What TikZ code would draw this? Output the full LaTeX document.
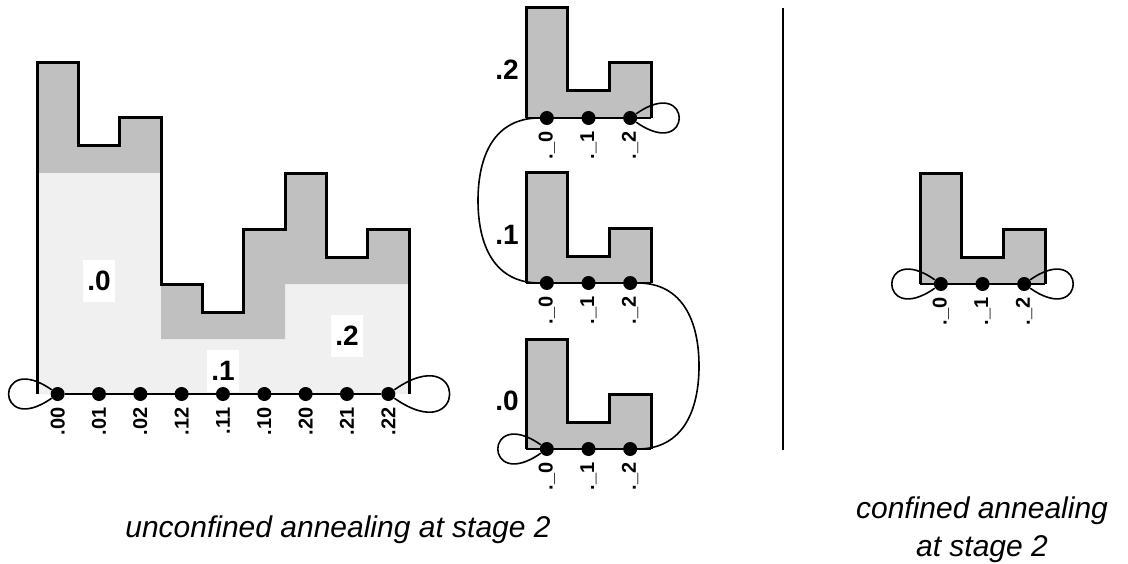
\documentclass[tikz,border=0pt]{standalone}
\usepackage{fontspec}
\setmainfont{Liberation Sans}
\usepackage{xcolor}
\usepackage{tikz}
\usetikzlibrary{positioning,calc}

\definecolor{blockgray}{HTML}{C0C0C0}
\definecolor{palegray}{HTML}{F0F0F0}

% one L-shaped block, left corner at the origin
\newcommand{\lshape}{(0,0) |- (41.67,110) |- (83.33,27) |- (125,55) -- (125,0)}

\begin{document}
\begin{tikzpicture}[
    x=0.5pt, y=0.5pt,
    outline/.style={line width=1.5pt, line join=miter},
    thinline/.style={line width=0.8pt},
    dot/.style={circle, fill=black, inner sep=0pt, minimum size=7pt},
    idx/.style={rotate=90, anchor=east, inner sep=0pt, font=\bfseries\fontsize{10}{12}\selectfont},
    stagelbl/.style={inner sep=0pt, minimum width=16pt, minimum height=21pt, font=\bfseries\fontsize{14}{16}\selectfont},
    region/.style={stagelbl, fill=white},
    caption/.style={font=\itshape\fontsize{15}{19}\selectfont, align=center},
    selfloop/.style={thinline, min distance=35pt}
]
\useasboundingbox (0,0) rectangle (1128,563);

% Unconfined annealing: histogram
\fill[palegray] (37,169) -- (37,390) -- (161,390) -- (161,224) -- (285,224) -- (285,279) -- (409,279) -- (409,169) -- cycle;
\fill[blockgray] (37,390) |- (78.33,500) |- (119.67,417) |- (161,445) -- (161,390) -- cycle;
\fill[blockgray] (161,224) |- (202.33,279) |- (243.67,251) |- (285,334) -- (285,224) -- cycle;
\fill[blockgray] (285,279) |- (326.33,389) |- (367.67,306) |- (409,334) -- (409,279) -- cycle;
\draw[outline] (37,169) |- (78.33,500) |- (119.67,417) |- (161,445) |- (202.33,279) |- (243.67,251)
    |- (285,334) |- (326.33,389) |- (367.67,306) |- (409,334) -- (409,169);

\node[region] (r0) at (99,282) {.0};
\node[region] (r1) at (223,192) {.1};
\node[region] (r2) at (347,227) {.2};

\foreach \lbl [count=\i from 0] in {00,01,02,12,11,10,20,21,22} {
    \node[dot] (h\lbl) at ({37+41.33*(\i+0.5)},169) {};
    \node[idx] at ({37+41.33*(\i+0.5)},156) {.\lbl};
}
\draw[thinline] (h00) -- (h22);
\draw[selfloop] (h00) to[out=145, in=215] (h00);
\draw[selfloop, min distance=45pt] (h22) to[out=35, in=-35] (h22);

% Unconfined annealing: stacked blocks
\foreach \b/\y in {2/445,1/280,0/114} {
    \begin{scope}[shift={(526,\y)}]
        \fill[blockgray] \lshape -- cycle;
        \draw[outline] \lshape;
        \draw[thinline] (0,0) -- (125,0);
        \foreach \k in {0,1,2} {
            \node[dot] (m\b\k) at ({20.83+41.67*\k},0) {};
            \node[idx] at ({20.83+41.67*\k},-13) {.\_\k};
        }
        \node[stagelbl] (s\b) at (-19,48) {.\b};
    \end{scope}
}
\draw[thinline] (m20.west) .. controls +(-45,0) and +(0,45) .. (478,362.5)
    .. controls +(0,-45) and +(-45,0) .. (m10.west);
\draw[thinline] (m12.east) .. controls +(45,0) and +(0,45) .. (699,197)
    .. controls +(0,-45) and +(45,0) .. (m02.east);
\draw[selfloop] (m22) to[out=35, in=-35] (m22);
\draw[selfloop] (m00) to[out=145, in=215] (m00);

% Separator
\draw[line width=1pt] (783,555) -- (783,113);

% Confined annealing
\begin{scope}[shift={(920,279)}]
    \fill[blockgray] \lshape -- cycle;
    \draw[outline] \lshape;
    \draw[thinline] (0,0) -- (125,0);
    \foreach \k in {0,1,2} {
        \node[dot] (c\k) at ({20.83+41.67*\k},0) {};
        \node[idx] at ({20.83+41.67*\k},-13) {.\_\k};
    }
\end{scope}
\draw[selfloop] (c0) to[out=145, in=215] (c0);
\draw[selfloop] (c2) to[out=35, in=-35] (c2);

% Captions
\node[caption, anchor=base] (capl) at (338,26) {unconfined annealing at stage 2};
\node[caption] (capr) at (982,33) {confined annealing\\at stage 2};

\end{tikzpicture}
\end{document}
